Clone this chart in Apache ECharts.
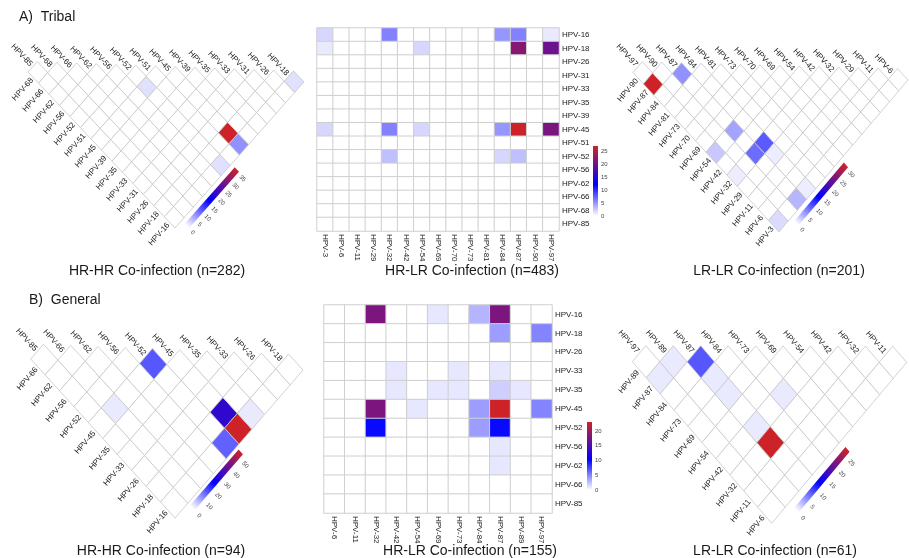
<!DOCTYPE html>
<html><head><meta charset="utf-8">
<script src="https://cdn.jsdelivr.net/npm/echarts/dist/echarts.min.js"></script>
<style>html,body{margin:0;padding:0;background:#fff}#c{width:909px;height:558px}</style>
</head><body><div id="c"></div><script>
// ================= DATA =================
// Tribal HR-HR (triangle)
const hrTypesTribal = ['HPV-85','HPV-68','HPV-66','HPV-62','HPV-56','HPV-52','HPV-51','HPV-45','HPV-39','HPV-35','HPV-33','HPV-31','HPV-26','HPV-18','HPV-16'];
const hrPairsTribal = [['HPV-45','HPV-52',2],['HPV-16','HPV-18',2],['HPV-18','HPV-45',36],['HPV-16','HPV-45',7],['HPV-16','HPV-52',2]];
const hrTicksTribal = [0,5,10,15,20,25,30,35];
const hrMaxTribal = 36;

// Tribal HR-LR (matrix)
const hlColsTribal = ['HPV-3','HPV-6','HPV-11','HPV-29','HPV-32','HPV-42','HPV-54','HPV-69','HPV-70','HPV-73','HPV-81','HPV-84','HPV-87','HPV-90','HPV-97'];
const hlRowsTribal = ['HPV-16','HPV-18','HPV-26','HPV-31','HPV-33','HPV-35','HPV-39','HPV-45','HPV-51','HPV-52','HPV-56','HPV-62','HPV-66','HPV-68','HPV-85'];
const hlPairsTribal = [
  ['HPV-16','HPV-3',2],['HPV-16','HPV-32',6],['HPV-16','HPV-84',5],['HPV-16','HPV-87',6],['HPV-16','HPV-97',1],
  ['HPV-18','HPV-3',1],['HPV-18','HPV-54',2],['HPV-18','HPV-87',22],['HPV-18','HPV-97',20],
  ['HPV-45','HPV-3',2],['HPV-45','HPV-32',6],['HPV-45','HPV-54',2],['HPV-45','HPV-84',5],['HPV-45','HPV-87',27],['HPV-45','HPV-97',21],
  ['HPV-52','HPV-32',3],['HPV-52','HPV-84',2],['HPV-52','HPV-87',3]
];
const hlTicksTribal = [0,5,10,15,20,25];
const hlMaxTribal = 27;

// Tribal LR-LR (triangle)
const lrTypesTribal = ['HPV-97','HPV-90','HPV-87','HPV-84','HPV-81','HPV-73','HPV-70','HPV-69','HPV-54','HPV-42','HPV-32','HPV-29','HPV-11','HPV-6','HPV-3'];
const lrPairsTribal = [['HPV-87','HPV-97',31],['HPV-84','HPV-87',6],['HPV-54','HPV-87',5],['HPV-54','HPV-97',3],['HPV-32','HPV-84',9],['HPV-32','HPV-87',8],['HPV-29','HPV-84',1],['HPV-32','HPV-97',1],['HPV-3','HPV-87',4],['HPV-3','HPV-84',1],['HPV-3','HPV-97',2]];
const lrTicksTribal = [0,5,10,15,20,25,30];
const lrMaxTribal = 31;

// General HR-HR (triangle)
const hrTypesGeneral = ['HPV-85','HPV-66','HPV-62','HPV-56','HPV-52','HPV-45','HPV-35','HPV-33','HPV-26','HPV-18','HPV-16'];
const hrPairsGeneral = [['HPV-45','HPV-52',16],['HPV-45','HPV-66',2],['HPV-18','HPV-45',31],['HPV-16','HPV-35',2],['HPV-16','HPV-45',54],['HPV-16','HPV-52',15]];
const hrTicksGeneral = [0,10,20,30,40,50];
const hrMaxGeneral = 54;

// General HR-LR (matrix)
const hlColsGeneral = ['HPV-6','HPV-11','HPV-32','HPV-42','HPV-54','HPV-69','HPV-73','HPV-84','HPV-87','HPV-89','HPV-97'];
const hlRowsGeneral = ['HPV-16','HPV-18','HPV-26','HPV-33','HPV-35','HPV-45','HPV-52','HPV-56','HPV-62','HPV-66','HPV-85'];
const hlPairsGeneral = [
  ['HPV-16','HPV-32',18],['HPV-16','HPV-69',1],['HPV-16','HPV-84',3],['HPV-16','HPV-87',18],
  ['HPV-18','HPV-87',4],['HPV-18','HPV-97',5],
  ['HPV-33','HPV-42',1],['HPV-33','HPV-73',1],['HPV-33','HPV-87',1],
  ['HPV-35','HPV-42',1],['HPV-35','HPV-69',1],['HPV-35','HPV-73',1],['HPV-35','HPV-87',2],['HPV-35','HPV-89',1],
  ['HPV-45','HPV-32',18],['HPV-45','HPV-54',1],['HPV-45','HPV-84',4],['HPV-45','HPV-87',23],['HPV-45','HPV-97',5],
  ['HPV-52','HPV-32',10],['HPV-52','HPV-84',4],['HPV-52','HPV-87',10],
  ['HPV-56','HPV-87',1],['HPV-62','HPV-87',1]
];
const hlTicksGeneral = [0,5,10,15,20];
const hlMaxGeneral = 23;

// General LR-LR (triangle)
const lrTypesGeneral = ['HPV-97','HPV-89','HPV-87','HPV-84','HPV-73','HPV-69','HPV-54','HPV-42','HPV-32','HPV-11','HPV-6'];
const lrPairsGeneral = [['HPV-87','HPV-89',1],['HPV-87','HPV-97',1],['HPV-84','HPV-87',8],['HPV-73','HPV-87',1],['HPV-69','HPV-87',1],['HPV-42','HPV-73',1],['HPV-42','HPV-87',1],['HPV-32','HPV-87',27]];
const lrTicksGeneral = [0,5,10,15,20,25];
const lrMaxGeneral = 27;

const sectionTitles = ['A)  Tribal','B)  General'];
const panelTitles = ['HR-HR Co-infection (n=282)','HR-LR Co-infection (n=483)','LR-LR Co-infection (n=201)',
                     'HR-HR Co-infection (n=94)','HR-LR Co-infection (n=155)','LR-LR Co-infection (n=61)'];

// ================= STYLE / LAYOUT =================
const FONT = '"Liberation Sans", Arial, sans-serif';
const GRAD = [[0,[255,255,255]],[0.45,[0,0,255]],[1,[205,35,40]]];
function gradAt(t){
  for(let i=1;i<GRAD.length;i++){
    if(t<=GRAD[i][0]){const a=GRAD[i-1],b=GRAD[i];const f=(t-a[0])/(b[0]-a[0]);
      const c=a[1].map((x,k)=>Math.round(x+(b[1][k]-x)*f));return 'rgb('+c.join(',')+')';}
  }
  return 'rgb('+GRAD[GRAD.length-1][1].join(',')+')';
}
const PALETTE = Array.from({length:41},(_,i)=>gradAt(i/40));
const GSTOPS = PALETTE.map((c,i)=>({offset:i/40,color:c}));

const option = {backgroundColor:'#fff', animation:false, title:[], grid:[], xAxis:[], yAxis:[], series:[], visualMap:[]};
sectionTitles.forEach((t,i)=>option.title.push({text:t,left:i?24:14,top:i?288:5,textStyle:{fontFamily:FONT,fontSize:14,fontWeight:'normal',color:'#1a1a1a'}}));
const titlePos = [[152,259],[467,259],[774,259],[156,539],[465,539],[770,539]];
panelTitles.forEach((t,i)=>option.title.push({text:t,left:titlePos[i][0],top:titlePos[i][1],textAlign:'center',textStyle:{fontFamily:FONT,fontSize:14,fontWeight:'normal',color:'#1a1a1a'}}));

function addGrid(g, x, y){
  const gi = option.grid.length;
  option.grid.push(Object.assign({containLabel:false}, g));
  option.xAxis.push(Object.assign({gridIndex:gi}, x));
  option.yAxis.push(Object.assign({gridIndex:gi}, y));
  return gi;
}

// Rotated triangle panel
function triPanel(types, pairs, ticks, maxVal, geo){
  const n = types.length - 1;
  const idx = {}; types.forEach((t,i)=>idx[t]=i);
  const val = {};
  pairs.forEach(([a,b,v])=>{const ia=idx[a], ib=idx[b]; val[(Math.max(ia,ib)-1)+'_'+Math.min(ia,ib)] = v;});
  const cells = [];
  for(let r=0;r<n;r++) for(let c=0;c<=r;c++) cells.push([c, r, val[r+'_'+c] || 0]);
  const gi = addGrid({left:geo.ox, top:geo.oy-geo.e, width:2*n*geo.a, height:(n+1)*geo.e},
    {type:'value', min:0, max:2*n, show:false},
    {type:'value', min:-1, max:n, inverse:true, show:false});
  const mk = api => (c, r) => { const u=c+r, v=r-c; return api.coord([u + geo.sx*v, v + geo.sy*u]); };
  const si = option.series.length;
  option.series.push({type:'custom', coordinateSystem:'cartesian2d', xAxisIndex:gi, yAxisIndex:gi, data:cells, silent:true,
    encode:{x:0,y:1},
    renderItem:(p, api)=>{
      const P = mk(api); const c=api.value(0), r=api.value(1);
      return {type:'polygon', shape:{points:[P(c,r),P(c+1,r),P(c+1,r+1),P(c,r+1)]},
        style:{fill:api.visual('color'), stroke:'#c6c6c6', lineWidth:0.8}};
    }});
  option.visualMap.push({type:'continuous', show:false, seriesIndex:si, dimension:2, min:0, max:maxVal, inRange:{color:PALETTE}});
  // axis labels
  const labelData = []; for(let i=0;i<n;i++) labelData.push([i, i]);
  option.series.push({type:'custom', coordinateSystem:'cartesian2d', xAxisIndex:gi, yAxisIndex:gi, data:labelData, silent:true,
    renderItem:(p, api)=>{
      const P = mk(api); const i = api.value(0);
      const o = P(0,0), pr = P(0,1), pc = P(1,0);
      const Rv=[pr[0]-o[0],pr[1]-o[1]], Cv=[pc[0]-o[0],pc[1]-o[1]];
      const lr=Math.hypot(Rv[0],Rv[1]), lc=Math.hypot(Cv[0],Cv[1]);
      const gap = 2;
      const top = P(i+0.5, i), left = P(0, i+0.5);
      return {type:'group', children:[
        {type:'text', x: top[0]-Rv[0]/lr*gap, y: top[1]-Rv[1]/lr*gap, rotation: -Math.atan2(Rv[1],Rv[0]),
          style:{text:types[i], fill:'#222', font:'8px '+FONT, align:'right', verticalAlign:'middle', textAlign:'right', textVerticalAlign:'middle'}},
        {type:'text', x: left[0]-Cv[0]/lc*gap, y: left[1]-Cv[1]/lc*gap, rotation: -Math.atan2(Cv[1],Cv[0]),
          style:{text:types[i+1], fill:'#222', font:'8px '+FONT, align:'right', verticalAlign:'middle', textAlign:'right', textVerticalAlign:'middle'}}
      ]};
    }});
  // colour bar
  option.series.push({type:'custom', coordinateSystem:'cartesian2d', xAxisIndex:gi, yAxisIndex:gi, data:[[0,0]], silent:true,
    renderItem:(p, api)=>{
      const P = mk(api);
      const c0=geo.lc0, c1=geo.lc1, rb=geo.lr, th=geo.lth;
      const g0=P(c0, rb+th/2), g1=P(c1, rb+th/2);
      const o = P(0,0), pr = P(0,1);
      const Rv=[pr[0]-o[0],pr[1]-o[1]]; const rot = -Math.atan2(Rv[1],Rv[0]);
      const kids = [{type:'polygon', shape:{points:[P(c0,rb),P(c1,rb),P(c1,rb+th),P(c0,rb+th)]},
        style:{fill:new echarts.graphic.LinearGradient(g0[0],g0[1],g1[0],g1[1],GSTOPS,true)}}];
      ticks.forEach(t=>{
        const q = P(c0 + (c1-c0)*t/maxVal, rb+th+0.25);
        kids.push({type:'text', x:q[0], y:q[1], rotation:rot,
          style:{text:String(t), fill:'#444', font:'6px '+FONT, align:'left', verticalAlign:'middle', textAlign:'left', textVerticalAlign:'middle'}});
      });
      return {type:'group', children:kids};
    }});
}

// Ordinary matrix panel
function matPanel(cols, rows, pairs, ticks, maxVal, box, leg){
  const ci = {}, ri = {}; cols.forEach((c,i)=>ci[c]=i); rows.forEach((r,i)=>ri[r]=i);
  const val = {}; pairs.forEach(([r,c,v])=>val[ri[r]+'_'+ci[c]] = v);
  const data = [];
  for(let r=0;r<rows.length;r++) for(let c=0;c<cols.length;c++) data.push([c, r, val[r+'_'+c] || 0]);
  const gi = addGrid(box,
    {type:'category', data:cols, axisLine:{show:false}, axisTick:{show:false}, splitLine:{show:false},
     axisLabel:{rotate:-90, fontSize:8, fontFamily:FONT, color:'#222', margin:3, interval:0}},
    {type:'category', data:rows, position:'right', inverse:true, axisLine:{show:false}, axisTick:{show:false}, splitLine:{show:false},
     axisLabel:{fontSize:8, fontFamily:FONT, color:'#222', margin:3, interval:0}});
  const si = option.series.length;
  option.series.push({type:'heatmap', xAxisIndex:gi, yAxisIndex:gi, data:data, silent:true,
    itemStyle:{borderColor:'#cfcfcf', borderWidth:1}, emphasis:{disabled:true}});
  option.visualMap.push({type:'continuous', show:false, seriesIndex:si, dimension:2, min:0, max:maxVal, inRange:{color:PALETTE}});
  // legend bar on its own value axis
  const li = addGrid(leg,
    {type:'value', min:0, max:1, show:false},
    {type:'value', min:0, max:maxVal, interval:5, position:'right', axisLine:{show:false}, axisTick:{show:false}, splitLine:{show:false},
     axisLabel:{fontSize:6, fontFamily:FONT, color:'#444', margin:3, showMaxLabel:false}});
  option.series.push({type:'custom', coordinateSystem:'cartesian2d', xAxisIndex:li, yAxisIndex:li, data:[[0,0]], silent:true,
    renderItem:(p, api)=>{
      const a = api.coord([0,0]), b = api.coord([1,maxVal]);
      return {type:'rect', shape:{x:a[0], y:b[1], width:b[0]-a[0], height:a[1]-b[1]},
        style:{fill:new echarts.graphic.LinearGradient(0,a[1],0,b[1],GSTOPS,true)}};
    }});
}

triPanel(hrTypesTribal, hrPairsTribal, hrTicksTribal, hrMaxTribal,
  {ox:28, oy:72, a:9.855, e:10.785, sx:0.065, sy:0.033, lc0:0.7, lc1:6.15, lr:14.3, lth:0.4});
matPanel(hlColsTribal, hlRowsTribal, hlPairsTribal, hlTicksTribal, hlMaxTribal,
  {left:317, top:28, width:242, height:203}, {left:593, top:146, width:5, height:70});
triPanel(lrTypesTribal, lrPairsTribal, lrTicksTribal, lrMaxTribal,
  {ox:633, oy:72.5, a:9.82, e:11.12, sx:0.062, sy:0.024, lc0:1.3, lc1:6.7, lr:14.3, lth:0.4});
triPanel(hrTypesGeneral, hrPairsGeneral, hrTicksGeneral, hrMaxGeneral,
  {ox:30.7, oy:359, a:13.615, e:15.35, sx:0.06, sy:0.036, lc0:1.0, lc1:4.8, lr:10.15, lth:0.3});
matPanel(hlColsGeneral, hlRowsGeneral, hlPairsGeneral, hlTicksGeneral, hlMaxGeneral,
  {left:324, top:305, width:228, height:208}, {left:587, top:422, width:5, height:68});
triPanel(lrTypesGeneral, lrPairsGeneral, lrTicksGeneral, lrMaxGeneral,
  {ox:632.3, oy:361.7, a:13.72, e:16.13, sx:0.016, sy:0.002, lc0:1.3, lc1:5.1, lr:10.35, lth:0.3});

const chart = echarts.init(document.getElementById('c'), null, {renderer:'canvas'});
chart.setOption(option);
</script></body></html>
